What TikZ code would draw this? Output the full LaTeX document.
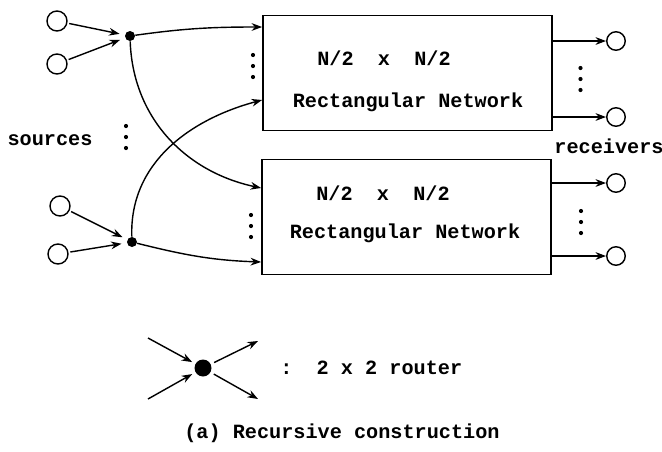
\documentclass[tikz,border=0pt]{standalone}
\usepackage{fontspec}
\setmonofont{Liberation Mono}
\usetikzlibrary{arrows.meta}

\begin{document}
\begin{tikzpicture}[>={Stealth[length=6pt,width=4.4pt]},
    port/.style={circle, draw, thick, minimum size=0.4cm, inner sep=0pt},
    router/.style={circle, fill, minimum size=0.2cm, inner sep=0pt},
    net/.style={rectangle, draw, line width=1pt, minimum width=5.78cm, minimum height=2.3cm},
    lbl/.style={font=\ttfamily\bfseries\fontsize{11.5}{13}\selectfont, inner sep=0pt},
    arrow/.style={->, thick},
    feed/.style={->, thick, shorten <=1pt, shorten >=3pt}]

    \useasboundingbox (0,0) rectangle (13.24,9.02);

    % Sources feeding the two routers
    \node[port] (src1) at (1.14,8.6) {};
    \node[port] (src2) at (1.14,7.74) {};
    \node[port] (src3) at (1.2,4.9) {};
    \node[port] (src4) at (1.16,3.94) {};
    \node[router] (rt1) at (2.6,8.3) {};
    \node[router] (rt2) at (2.64,4.18) {};
    \node[lbl] (sources) at (1.0,6.22) {sources};

    \draw[feed] (src1) -- (rt1);
    \draw[feed] (src2) -- (rt1);
    \draw[feed] (src3) -- (rt2);
    \draw[feed] (src4) -- (rt2);

    % The two half-size networks
    \node[net] (nettop) at (8.15,7.56) {};
    \node[net] (netbot) at (8.13,4.68) {};
    \node[lbl] (sizetop) at (7.68,7.86) {N/2~~x~~N/2};
    \node[lbl] (nametop) at (8.16,6.98) {Rectangular Network};
    \node[lbl] (sizebot) at (7.66,5.16) {N/2~~x~~N/2};
    \node[lbl] (namebot) at (8.1,4.36) {Rectangular Network};

    \coordinate (intopa) at (nettop.west |- 0,8.48);
    \coordinate (intopb) at (nettop.west |- 0,7.02);
    \coordinate (inbota) at (netbot.west |- 0,5.26);
    \coordinate (inbotb) at (netbot.west |- 0,3.78);

    \draw[arrow] (rt1) to[out=8,in=180] (intopa);
    \draw[arrow] (rt1) to[out=-88,in=168] (inbota);
    \draw[arrow] (rt2) to[out=92,in=195] (intopb);
    \draw[arrow] (rt2) to[out=-14,in=178] (inbotb);

    % Receivers
    \node[port, minimum size=0.37cm] (rcv1) at (12.32,8.2) {};
    \node[port, minimum size=0.37cm] (rcv2) at (12.32,6.68) {};
    \node[port, minimum size=0.37cm] (rcv3) at (12.32,5.36) {};
    \node[port, minimum size=0.37cm] (rcv4) at (12.32,3.9) {};
    \node[lbl] (receivers) at (12.18,6.1) {receivers};

    \draw[arrow] (nettop.east |- rcv1) -- (rcv1);
    \draw[arrow] (nettop.east |- rcv2) -- (rcv2);
    \draw[arrow] (netbot.east |- rcv3) -- (rcv3);
    \draw[arrow] (netbot.east |- rcv4) -- (rcv4);

    % vertical dots
    \foreach \x/\y in {2.52/6.5, 5.06/7.92, 5.02/4.72, 11.61/7.66, 11.62/4.8}
        \foreach \k in {0,1,2}
            \fill (\x,\y-0.22*\k) circle (0.042);

    % Legend
    \node[router, minimum size=0.34cm] (leg) at (4.06,1.66) {};
    \coordinate (lga) at (2.96,2.26);
    \coordinate (lgb) at (2.96,1.04);
    \coordinate (lgc) at (5.16,2.2);
    \coordinate (lgd) at (5.16,1.04);
    \draw[arrow, shorten >=2pt] (lga) -- (leg);
    \draw[arrow, shorten >=2pt] (lgb) -- (leg);
    \draw[arrow, shorten <=2pt] (leg) -- (lgc);
    \draw[arrow, shorten <=2pt] (leg) -- (lgd);
    \node[lbl, anchor=west] (legtext) at (5.6,1.66) {:~~2 x 2 router};

    \node[lbl] (caption) at (6.84,0.36) {(a) Recursive construction};

\end{tikzpicture}
\end{document}
